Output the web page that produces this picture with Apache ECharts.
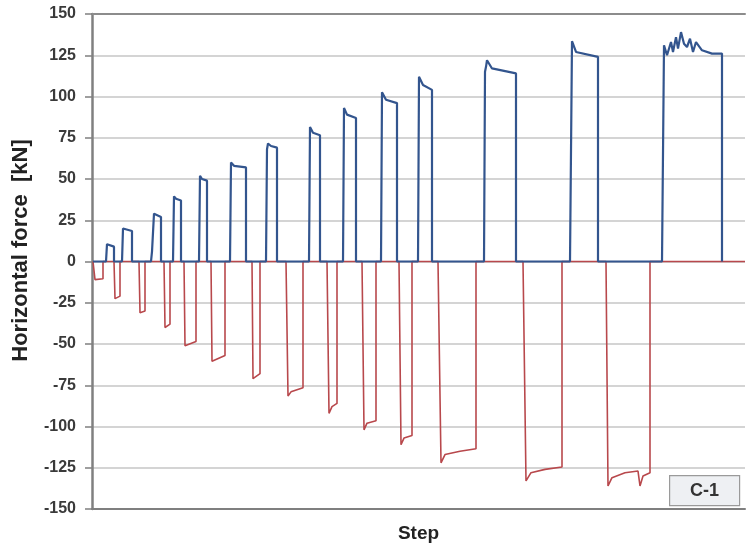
<!DOCTYPE html>
<html>
<head>
<meta charset="utf-8">
<script src="https://cdn.jsdelivr.net/npm/echarts@6/dist/echarts.min.js"></script>
<style>
  html, body { margin: 0; padding: 0; background: #fff; }
  #chart { width: 747px; height: 549px; }
</style>
</head>
<body>
<div id="chart"></div>
<script>
// y ticks
const yTicks = [-150, -125, -100, -75, -50, -25, 0, 25, 50, 75, 100, 125, 150]

// step range (arbitrary step units)
const stepMin = 92
const stepMax = 745

// positive (push) cycles: [step, force] points of each loop
const bluePulses = [
  [[106, 0], [107, 10.5], [109, 9.5], [114, 9], [114, 0]],
  [[122, 0], [123, 20], [125, 19], [132, 18.5], [132, 0]],
  [[151, 0], [152, 6], [154, 29], [156, 28], [161, 27], [161, 0]],
  [[173, 0], [174, 39.5], [176, 38], [181, 37], [181, 0]],
  [[199, 0], [200, 52], [202, 50], [207, 49], [207, 0]],
  [[230, 0], [231, 60], [234, 58], [246, 57], [246, 0]],
  [[266, 0], [267, 68], [268, 71.5], [271, 70], [277, 69], [277, 0]],
  [[309, 0], [310, 81.5], [313, 78], [320, 76.5], [320, 0]],
  [[343, 0], [344, 93], [347, 89], [356, 87], [356, 0]],
  [[381, 0], [382, 102.5], [386, 98], [397, 96], [397, 0]],
  [[418, 0], [419, 112], [423, 107], [432, 104], [432, 0]],
  [[484, 0], [485, 115], [486, 118], [487, 122], [492, 117], [516, 114], [516, 0]],
  [[570, 0], [572, 133.5], [576, 127], [598, 124], [598, 0]],
  [[662, 0], [664, 131], [667, 125], [671, 133], [673, 127], [676, 136], [678, 129],
   [681, 139], [684, 132], [687, 130], [690, 135], [693, 127], [696, 133], [702, 128], [712, 126], [722, 126], [722, 0]]
]

// negative (pull) cycles
const redPulses = [
  [[94, 0], [95, -11], [103, -10.5], [103, 0]],
  [[114, 0], [115, -22.5], [120, -21], [120, 0]],
  [[139, 0], [140, -31], [145, -30], [145, 0]],
  [[164, 0], [165, -40], [170, -38], [170, 0]],
  [[184, 0], [185, -51], [196, -48.5], [196, 0]],
  [[211, 0], [212, -60.5], [225, -57], [225, 0]],
  [[252, 0], [253, -71], [260, -68], [260, 0]],
  [[286, 0], [288, -81.5], [291, -79], [303, -76.5], [303, 0]],
  [[327, 0], [329, -92], [332, -88], [337, -86], [337, 0]],
  [[362, 0], [364, -102], [367, -98], [376, -96.5], [376, 0]],
  [[399, 0], [401, -111], [404, -107], [412, -105.5], [412, 0]],
  [[438, 0], [441, -122], [445, -117], [460, -115], [476, -113.5], [476, 0]],
  [[523, 0], [526, -133], [531, -128], [545, -126], [562, -124.5], [562, 0]],
  [[606, 0], [608, -136], [612, -131], [625, -128], [638, -127], [640, -136], [643, -130], [650, -128], [650, 0]]
]

function buildLine(pulses, startStep, endStep) {
  const pts = [[startStep, 0]]
  pulses.forEach(p => p.forEach(pt => pts.push(pt)))
  pts.push([endStep, 0])
  return pts
}

const chart = echarts.init(document.getElementById('chart'), null, { renderer: 'canvas' })

const labelFont = 'Liberation Sans, Arial, sans-serif'

chart.setOption({
  animation: false,
  backgroundColor: '#ffffff',
  grid: { left: 92, right: 2, top: 14, bottom: 40, containLabel: false, outerBoundsMode: 'none' },
  xAxis: [
    {
      type: 'value',
      min: stepMin,
      max: stepMax,
      name: 'Step',
      nameLocation: 'middle',
      nameGap: 15,
      nameTextStyle: { fontFamily: labelFont, fontWeight: 'bold', fontSize: 19, color: '#222' },
      axisLine: { show: true, onZero: false, lineStyle: { color: '#7f7f7f', width: 2 } },
      axisTick: { show: false },
      axisLabel: { show: false },
      splitLine: { show: false }
    },
    {
      type: 'value',
      position: 'top',
      min: stepMin,
      max: stepMax,
      axisLine: { show: true, onZero: false, lineStyle: { color: '#8c8c8c', width: 2 } },
      axisTick: { show: false },
      axisLabel: { show: false },
      splitLine: { show: false }
    }
  ],
  yAxis: {
    type: 'value',
    min: yTicks[0],
    max: yTicks[yTicks.length - 1],
    interval: 25,
    name: 'Horizontal force  [kN]',
    nameLocation: 'middle',
    nameGap: 60,
    nameTextStyle: { fontFamily: labelFont, fontWeight: 'bold', fontSize: 22, color: '#222', padding: [0, 0, 0, 22] },
    axisLine: { show: true, lineStyle: { color: '#808080', width: 2.5 } },
    axisTick: { show: true, length: 7, lineStyle: { color: '#808080', width: 1.5 } },
    axisLabel: {
      margin: 16,
      fontFamily: labelFont,
      fontWeight: 'bold',
      fontSize: 16,
      color: '#3a3a3a'
    },
    splitLine: { show: true, lineStyle: { color: '#c6c6c6', width: 1.5 } }
  },
  series: [
    {
      name: 'pull',
      type: 'line',
      data: buildLine(redPulses, 93, stepMax),
      showSymbol: false,
      symbol: 'none',
      lineStyle: { color: '#b8484c', width: 1.6 },
      z: 2
    },
    {
      name: 'push',
      type: 'line',
      data: buildLine(bluePulses, 93, 722),
      showSymbol: false,
      symbol: 'none',
      lineStyle: { color: '#33558e', width: 2.2 },
      z: 3
    }
  ],
  graphic: [
    {
      type: 'group',
      left: 669,
      top: 475,
      children: [
        {
          type: 'rect',
          shape: { x: 0, y: 0, width: 70, height: 30 },
          style: { fill: '#eef0f3', stroke: '#9a9a9a', lineWidth: 1.2 }
        },
        {
          type: 'text',
          style: {
            x: 35, y: 15, text: 'C-1',
            align: 'center', verticalAlign: 'middle',
            font: 'bold 18px Liberation Sans, Arial, sans-serif',
            fill: '#333'
          }
        }
      ]
    }
  ]
})
</script>
</body>
</html>
